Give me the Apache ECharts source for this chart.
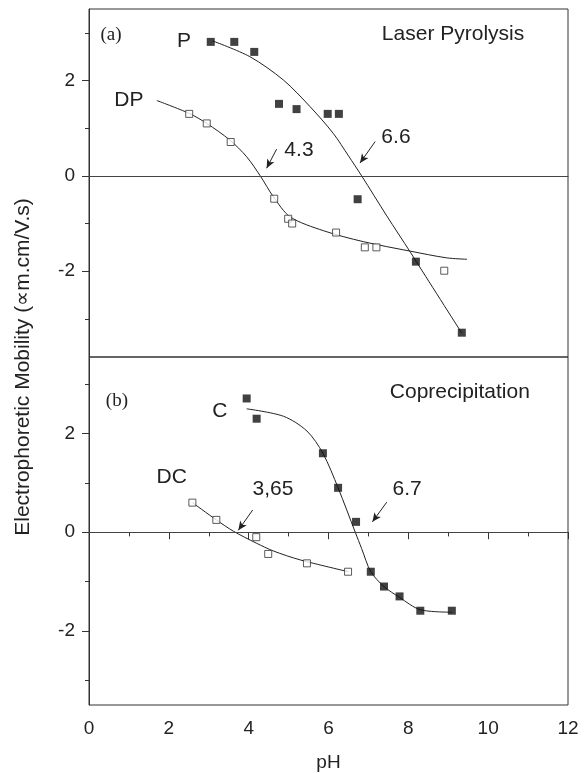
<!DOCTYPE html>
<html>
<head>
<meta charset="utf-8">
<script src="https://cdn.jsdelivr.net/npm/echarts@6/dist/echarts.min.js"></script>
<style>
html,body{margin:0;padding:0;background:#fff;}
#c{width:587px;height:773px;}
</style>
</head>
<body>
<div id="c"></div>
<script>
// ---------- data ----------
// Panel (a): Laser Pyrolysis
const P_ph  = [3.05, 3.64, 4.14, 4.76, 5.20, 5.98, 6.26, 6.73, 8.19, 9.34];
const P_mob = [2.81, 2.81, 2.60, 1.51, 1.40, 1.30, 1.30, -0.49, -1.80, -3.29];
const DP_ph  = [2.51, 2.95, 3.55, 4.64, 4.99, 5.09, 6.19, 6.91, 7.20, 8.90];
const DP_mob = [1.30, 1.10, 0.71, -0.48, -0.90, -1.00, -1.19, -1.50, -1.50, -1.99];
const P_fit_ph  = [3.10, 4.03, 4.87, 5.54, 6.12, 6.50, 6.83, 7.46, 8.05, 8.20, 9.34];
const P_fit_mob = [2.83, 2.50, 2.01, 1.45, 0.89, 0.42, 0.00, -0.84, -1.60, -1.80, -3.30];
const DP_fit_ph  = [1.70, 2.51, 2.95, 3.53, 3.95, 4.29, 4.62, 5.04, 5.87, 6.87, 8.05, 8.96, 9.47];
const DP_fit_mob = [1.58, 1.31, 1.10, 0.75, 0.40, 0.00, -0.44, -0.86, -1.15, -1.38, -1.58, -1.72, -1.75];
// Panel (b): Coprecipitation
const C_ph  = [3.95, 4.20, 5.86, 6.24, 6.69, 7.06, 7.39, 7.78, 8.30, 9.09];
const C_mob = [2.71, 2.30, 1.60, 0.90, 0.21, -0.80, -1.10, -1.30, -1.59, -1.59];
const DC_ph  = [2.59, 3.19, 4.19, 4.49, 5.46, 6.49];
const DC_mob = [0.60, 0.25, -0.10, -0.44, -0.63, -0.80];
const C_fit_ph  = [3.95, 4.87, 5.46, 5.86, 6.24, 6.67, 6.83, 7.06, 7.39, 7.78, 8.30, 9.09];
const C_fit_mob = [2.50, 2.35, 2.05, 1.60, 0.90, 0.00, -0.33, -0.80, -1.10, -1.32, -1.57, -1.62];
const DC_fit_ph  = [2.59, 3.19, 3.62, 4.19, 4.62, 5.29, 6.50];
const DC_fit_mob = [0.60, 0.25, 0.02, -0.22, -0.38, -0.56, -0.80];

// axis ticks
const X_TICKS = ['0', '2', '4', '6', '8', '10', '12'];
const Y_MAJOR = [-2, 0, 2];
const Y_MINOR = [-3, -1, 1, 3];

// annotations [text, x, y] in data coordinates
const ANN_A = [['P', 2.38, 2.83], ['DP', 1.0, 1.59], ['4.3', 5.26, 0.54], ['6.6', 7.69, 0.81], ['Laser Pyrolysis', 9.12, 2.97]];
const ANN_B = [['C', 3.28, 2.45], ['DC', 2.07, 1.11], ['3,65', 4.61, 0.88], ['6.7', 7.97, 0.88], ['Coprecipitation', 9.29, 2.83]];
const ARROWS_A = [[[4.70, 0.56], [4.45, 0.16]], [[7.17, 0.72], [6.79, 0.27]]];
const ARROWS_B = [[[4.10, 0.45], [3.74, 0.04]], [[7.46, 0.61], [7.10, 0.21]]];

const zip = (a, b) => a.map((v, i) => [v, b[i]]);

const SANS = 'Liberation Sans, Arial, sans-serif';
const SERIF = 'Liberation Serif, Times New Roman, serif';
const INK = '#222';

function marks(arrows) {
  const d = [{ yAxis: 0, symbol: 'none', lineStyle: { color: '#444', width: 1, type: 'solid' } }];
  arrows.forEach(a => d.push([
    { coord: a[0], symbol: 'none' },
    { coord: a[1], symbol: 'arrow', symbolSize: [6, 9] }
  ]));
  return { silent: true, symbol: 'none', label: { show: false }, lineStyle: { color: '#222', width: 1, type: 'solid' }, data: d, emphasis: { disabled: true } };
}

const chart = echarts.init(document.getElementById('c'), null, { renderer: 'canvas' });

const yMajor = (grid, min, max) => ({
  type: 'value', gridIndex: grid, min: min, max: max, position: 'left',
  axisLine: { show: true, lineStyle: { color: '#333', width: 1 } },
  axisTick: { show: true, length: 7, customValues: Y_MAJOR, lineStyle: { color: '#333' } },
  axisLabel: { customValues: Y_MAJOR, fontSize: 19, fontFamily: SANS, color: INK, margin: 14 },
  splitLine: { show: false }
});
const yMinor = (grid, min, max) => ({
  type: 'value', gridIndex: grid, min: min, max: max, position: 'left',
  axisLine: { show: false },
  axisTick: { show: true, length: 4, customValues: Y_MINOR, lineStyle: { color: '#333' } },
  axisLabel: { show: false },
  splitLine: { show: false }
});

const option = {
  animation: false,
  backgroundColor: '#fff',
  grid: [
    { left: 89, top: 9, width: 479, height: 348, show: true, borderColor: '#333', borderWidth: 1, backgroundColor: 'transparent' },
    { left: 89, top: 357, width: 479, height: 351, show: true, borderColor: '#333', borderWidth: 1, backgroundColor: 'transparent' }
  ],
  xAxis: [
    { type: 'value', gridIndex: 0, min: 0, max: 12, interval: 2,
      axisLine: { show: true, lineStyle: { color: '#333' } }, axisTick: { show: false }, axisLabel: { show: false }, splitLine: { show: false } },
    { type: 'value', gridIndex: 1, min: 0, max: 12, interval: 2, position: 'bottom',
      axisLine: { show: true, lineStyle: { color: '#333' } },
      axisTick: { show: true, length: 7, lineStyle: { color: '#333' } },
      minorTick: { show: true, splitNumber: 2, length: 4, lineStyle: { color: '#333' } },
      axisLabel: { fontSize: 19, fontFamily: SANS, color: INK, margin: 14, formatter: (v) => X_TICKS[Math.round(v / 2)] },
      splitLine: { show: false },
      name: 'pH', nameLocation: 'middle', nameGap: 48, nameTextStyle: { fontSize: 19, fontFamily: SANS, color: INK } },
    { type: 'value', gridIndex: 1, min: 0, max: 12, interval: 2, position: 'top',
      axisLine: { show: true, lineStyle: { color: '#333' } },
      axisTick: { show: true, inside: true, length: 6, lineStyle: { color: '#333' } },
      minorTick: { show: true, splitNumber: 2, length: 4, lineStyle: { color: '#333' } },
      axisLabel: { show: false }, splitLine: { show: false } }
  ],
  yAxis: [
    yMajor(0, -3.8, 3.5), yMinor(0, -3.8, 3.5),
    yMajor(1, -3.5, 3.55), yMinor(1, -3.5, 3.55)
  ],
  series: [
    { type: 'line', xAxisIndex: 0, yAxisIndex: 0, data: zip(P_fit_ph, P_fit_mob), smooth: 0.3, showSymbol: false, symbol: 'none',
      lineStyle: { color: '#222', width: 1 }, markLine: marks(ARROWS_A), z: 2 },
    { type: 'line', xAxisIndex: 0, yAxisIndex: 0, data: zip(DP_fit_ph, DP_fit_mob), smooth: 0.3, showSymbol: false, symbol: 'none',
      lineStyle: { color: '#222', width: 1 }, z: 2 },
    { type: 'scatter', xAxisIndex: 0, yAxisIndex: 0, data: zip(DP_ph, DP_mob), symbol: 'rect', symbolSize: 7,
      itemStyle: { color: '#fff', borderColor: '#333', borderWidth: 1 }, z: 3 },
    { type: 'scatter', xAxisIndex: 0, yAxisIndex: 0, data: zip(P_ph, P_mob), symbol: 'rect', symbolSize: 8,
      itemStyle: { color: '#111' }, z: 4 },

    { type: 'line', xAxisIndex: 1, yAxisIndex: 2, data: zip(C_fit_ph, C_fit_mob), smooth: 0.3, showSymbol: false, symbol: 'none',
      lineStyle: { color: '#222', width: 1 }, markLine: marks(ARROWS_B), z: 2 },
    { type: 'line', xAxisIndex: 1, yAxisIndex: 2, data: zip(DC_fit_ph, DC_fit_mob), smooth: 0.3, showSymbol: false, symbol: 'none',
      lineStyle: { color: '#222', width: 1 }, z: 2 },
    { type: 'scatter', xAxisIndex: 1, yAxisIndex: 2, data: zip(DC_ph, DC_mob), symbol: 'rect', symbolSize: 7,
      itemStyle: { color: '#fff', borderColor: '#333', borderWidth: 1 }, z: 3 },
    { type: 'scatter', xAxisIndex: 1, yAxisIndex: 2, data: zip(C_ph, C_mob), symbol: 'rect', symbolSize: 8,
      itemStyle: { color: '#111' }, z: 4 }
  ]
};
chart.setOption(option);

// annotation texts positioned through the axes
const g = [];
function addTexts(list, xi, yi) {
  list.forEach(([t, x, y]) => {
    const p = chart.convertToPixel({ xAxisIndex: xi, yAxisIndex: yi }, [x, y]);
    g.push({ type: 'text', x: p[0], y: p[1], style: { text: t, fill: INK, font: '21px ' + SANS, textAlign: 'center', textVerticalAlign: 'middle' }, z: 10 });
  });
}
addTexts(ANN_A, 0, 0);
addTexts(ANN_B, 1, 2);
const pa = chart.convertToPixel({ xAxisIndex: 0, yAxisIndex: 0 }, [0.55, 2.95]);
const pb = chart.convertToPixel({ xAxisIndex: 1, yAxisIndex: 2 }, [0.70, 2.65]);
g.push({ type: 'text', x: pa[0], y: pa[1], style: { text: '(a)', fill: INK, font: '19px ' + SERIF, textAlign: 'center', textVerticalAlign: 'middle' } });
g.push({ type: 'text', x: pb[0], y: pb[1], style: { text: '(b)', fill: INK, font: '19px ' + SERIF, textAlign: 'center', textVerticalAlign: 'middle' } });
g.push({ type: 'text', x: 23, y: 367, rotation: Math.PI / 2,
  style: { text: 'Electrophoretic Mobility (\u221Dm.cm/V.s)', fill: INK, font: '21px ' + SANS, textAlign: 'center', textVerticalAlign: 'middle' } });
chart.setOption({ graphic: g });
</script>
</body>
</html>
